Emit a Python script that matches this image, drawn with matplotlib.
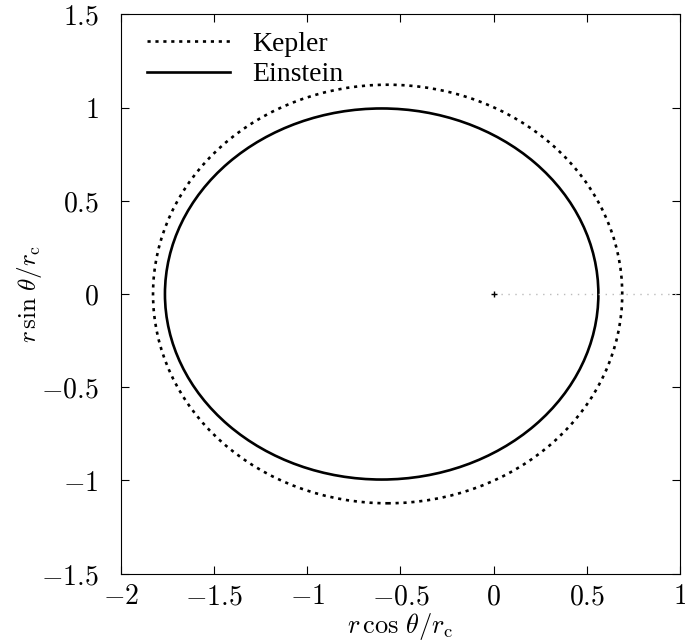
import numpy as np
import matplotlib.pyplot as plt
from matplotlib.patches import Ellipse

plt.rcParams['mathtext.fontset'] = 'cm'
plt.rcParams['font.family'] = ['DejaVu Serif']

# orbit extents (units of r_c), focus at origin
orbits = ['Kepler', 'Einstein']
perihelion = [0.69, 0.562]
aphelion = [1.828, 1.764]
styles = [(0, (1.2, 1.8)), '-']

# apsidal axis guide
axis_x = [0.0, 1.0]
axis_y = [0.0, 0.0]

xticks = [-2, -1.5, -1, -0.5, 0, 0.5, 1]
yticks = [-1.5, -1, -0.5, 0, 0.5, 1, 1.5]

fig = plt.figure(figsize=(6.85, 6.42), dpi=100)
ax = fig.add_axes([0.1766, 0.1064, 0.8161, 0.8713])

for name, rp, ra, ls in zip(orbits, perihelion, aphelion, styles):
    a = (rp + ra) / 2
    b = np.sqrt(rp * ra)
    cx = (rp - ra) / 2
    ax.add_patch(Ellipse((cx, 0), 2 * a, 2 * b, fill=False, ec='black',
                         lw=1.9, ls=ls))
    ax.plot([], [], color='black', lw=1.9, ls=ls, label=name)

ax.plot(axis_x, axis_y, color='#bbbbbb', lw=1, ls=(0, (1, 4)))
ax.plot([0], [0], marker='+', color='black', ms=4, mew=1)

ax.set_xlim(-2, 1)
ax.set_ylim(-1.5, 1.5)
ax.set_aspect('equal')
ax.set_xticks(xticks)
ax.set_yticks(yticks)
fmt = lambda v: '$%g$' % v
ax.set_xticklabels([fmt(v) for v in xticks])
ax.set_yticklabels([fmt(v) for v in yticks])
ax.tick_params(direction='in', top=True, right=True, length=6, width=0.8,
               labelsize=20)
ax.tick_params(axis='x', pad=7)
ax.tick_params(axis='y', pad=16)
ax.set_xlabel(r'$r\,\cos\,\theta/r_\mathrm{c}$', fontsize=19, va='baseline')
ax.xaxis.set_label_coords(0.5, -0.107)
ax.set_ylabel(r'$r\,\sin\,\theta/r_\mathrm{c}$', fontsize=18, labelpad=-2)

leg = ax.legend(loc='upper left', bbox_to_anchor=(0.0268, 0.989),
                frameon=False, handlelength=3.0, handletextpad=0.8,
                labelspacing=0.17, borderaxespad=0,
                prop={'family': 'Liberation Serif', 'size': 20})

fig.savefig('out.png', dpi=100)
